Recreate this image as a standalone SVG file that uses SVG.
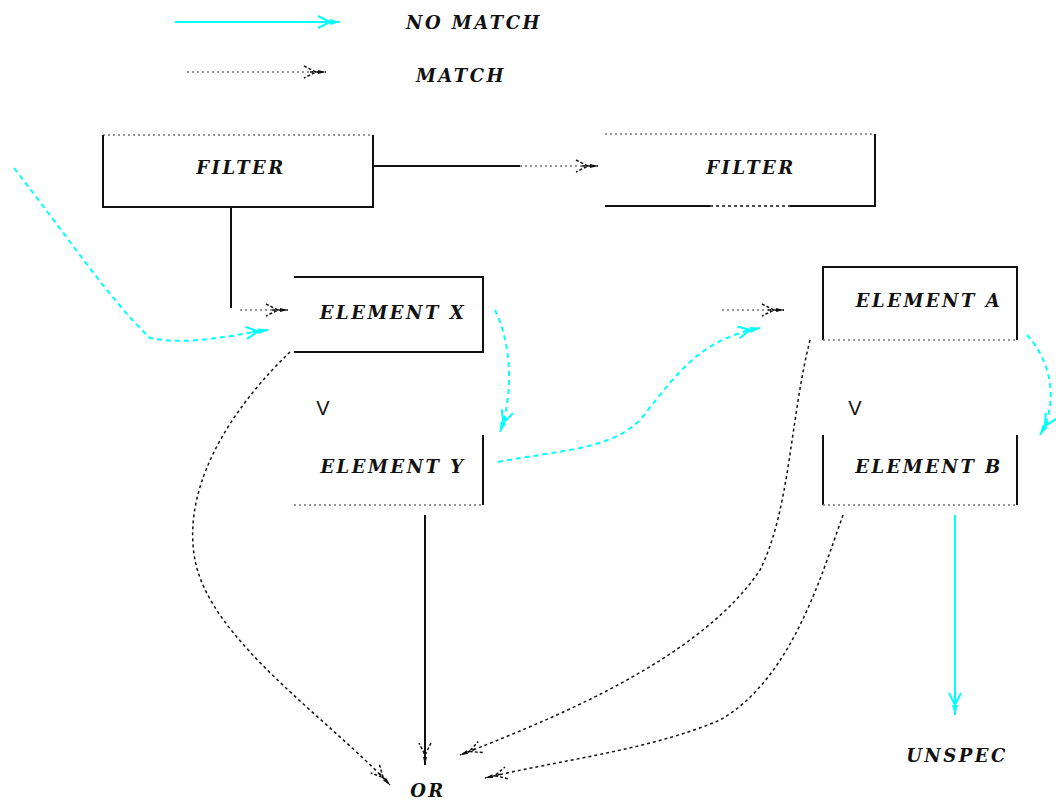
<svg xmlns="http://www.w3.org/2000/svg" width="1056" height="803" viewBox="0 0 1056 803">
<style>
text{font-family:"DejaVu Serif","Liberation Serif",serif;font-weight:bold;font-style:italic;font-size:18px;letter-spacing:2.5px;fill:#111;text-anchor:middle}
.v{font-family:"Liberation Sans",sans-serif;font-style:normal;font-weight:normal;font-size:20px;letter-spacing:0}
.s{stroke:#111;stroke-width:2;fill:none}
.d{stroke:#777;stroke-width:1.5;stroke-dasharray:2 3;fill:none}
.k{stroke:#111;stroke-width:1.5;stroke-dasharray:3 3;fill:none}
.c{stroke:#0ff;stroke-width:2;fill:none}
.cd{stroke:#0ff;stroke-width:2;stroke-dasharray:5 4;fill:none}
</style>
<defs>
<marker id="ab" markerWidth="40" markerHeight="20" refX="36" refY="10" orient="auto" markerUnits="userSpaceOnUse">
<path d="M14,4 L26,10 L14,16 M20,10 L36,10" stroke="#111" stroke-width="1.5" fill="none" stroke-dasharray="3 2"/>
<path d="M28,8 L36,10 L28,12 Z" fill="#111"/>
</marker>
<marker id="ac" markerWidth="40" markerHeight="20" refX="36" refY="10" orient="auto" markerUnits="userSpaceOnUse">
<path d="M14,4 L26,10 L14,16 M20,10 L36,10" stroke="#0ff" stroke-width="2" fill="none"/>
<path d="M26,7 L36,10 L26,13 Z" fill="#0ff"/>
</marker>
</defs>
<g id="legend">
<line x1="175" y1="22" x2="340" y2="22" class="c" marker-end="url(#ac)"/>
<text x="474" y="29">NO MATCH</text>
<line x1="187" y1="72" x2="326" y2="72" class="d" marker-end="url(#ab)"/>
<text x="461" y="82">MATCH</text>
</g>
<g id="filter1">
<line x1="103" y1="135" x2="373" y2="135" class="d"/>
<path d="M103,135 V207 H373 V135" class="s"/>
<text x="241" y="174">FILTER</text>
</g>
<g id="filter2">
<line x1="605" y1="134" x2="875" y2="134" class="d"/>
<path d="M605,206 H710 M790,206 H875 V134" class="s"/>
<line x1="710" y1="206" x2="790" y2="206" class="k"/>
<text x="751" y="174">FILTER</text>
</g>
<g id="elemX">
<path d="M294,277 H483 V352 H294" class="s"/>
<text x="393" y="319">ELEMENT X</text>
</g>
<g id="elemY">
<path d="M483,435 V505" class="s"/>
<line x1="294" y1="505" x2="483" y2="505" class="d"/>
<text x="393" y="473">ELEMENT Y</text>
</g>
<g id="elemA">
<path d="M823,340 V267 H1017 V340" class="s"/>
<line x1="823" y1="340" x2="1017" y2="340" class="d"/>
<text x="929" y="307">ELEMENT A</text>
</g>
<g id="elemB">
<path d="M823,435 V505 M1017,435 V505" class="s"/>
<line x1="823" y1="505" x2="1017" y2="505" class="d"/>
<text x="929" y="473">ELEMENT B</text>
</g>
<g id="labels">
<text x="323" y="415" class="v">V</text>
<text x="855" y="415" class="v">V</text>
<text x="428" y="797">OR</text>
<text x="957" y="762">UNSPEC</text>
</g>
<g id="connectors">
<path d="M373,166 H520" class="s"/>
<path d="M520,166 H598" class="d" marker-end="url(#ab)"/>
<path d="M231,207 V308" class="s"/>
<path d="M240,310 H288" class="d" marker-end="url(#ab)"/>
<path d="M14,168 C70,240 110,300 150,338 C190,346 230,335 268,330" class="cd" marker-end="url(#ac)"/>
<path d="M495,310 C510,340 515,390 500,432" class="cd" marker-end="url(#ac)"/>
<path d="M498,462 C560,450 610,450 640,420 C680,370 700,340 760,328" class="cd" marker-end="url(#ac)"/>
<path d="M722,310 H784" class="d" marker-end="url(#ab)"/>
<path d="M1027,335 C1050,360 1060,400 1040,435" class="cd" marker-end="url(#ac)"/>
<path d="M955,515 V715" class="c" marker-end="url(#ac)"/>
<path d="M425,515 V765" class="s" marker-end="url(#ab)"/>
<path d="M290,352 C240,400 180,480 195,560 C210,640 330,720 390,785" class="k" marker-end="url(#ab)"/>
<path d="M810,340 C790,420 790,510 760,570 C700,660 550,720 460,755" class="k" marker-end="url(#ab)"/>
<path d="M843,515 C820,580 790,680 720,720 C650,750 560,760 485,778" class="k" marker-end="url(#ab)"/>
</g>
</svg>
